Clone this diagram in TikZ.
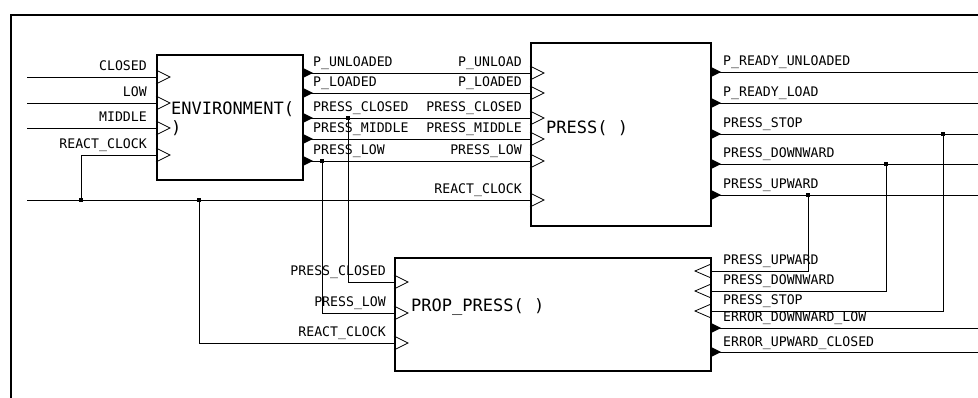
\documentclass[tikz,border=0pt]{standalone}
\usepackage{fontspec}
\setmonofont{DejaVu Sans Mono}
\usetikzlibrary{positioning}

\begin{document}
\begin{tikzpicture}[x=1pt, y=-1pt,
    wire/.style={line width=0.9pt},
    blk/.style={draw, line width=2pt, inner sep=0pt, anchor=north west},
    lbl/.style={font=\ttfamily\fontsize{13.2}{14}\selectfont, inner sep=0pt},
    ttl/.style={font=\ttfamily\fontsize{17}{19}\selectfont, inner sep=0pt, anchor=west, align=left},
    inport/.style={line width=0.8pt},
  ]
  \fill[white] (0,0) rectangle (978,398);
  \useasboundingbox (0,0) rectangle (978,398);
  \draw[line width=2.5pt] (978,15) -- (11,15) -- (11,398);

  % blocks
  \node[blk, minimum width=146, minimum height=125] (env) at (156,54) {};
  \node[blk, minimum width=180, minimum height=183] (press) at (530,42) {};
  \node[blk, minimum width=316, minimum height=113] (prop) at (394,257) {};
  \node[ttl] (envname) at (171,119) {ENVIRONMENT(\\)};
  \node[ttl] (pressname) at (546,128) {PRESS(~)};
  \node[ttl] (propname) at (411,307) {PROP\_PRESS(~)};

  % ENVIRONMENT inputs
  \foreach \n/\y/\t in {1/77/CLOSED, 2/103/LOW, 3/128/MIDDLE, 4/155/REACT\_CLOCK} {
    \coordinate (ei\n) at (156,\y);
    \draw[inport] (ei\n) ++(0,-7) -- ++(14,7) -- ++(-14,7);
    \node[lbl, anchor=base east] (eil\n) at ([xshift=-9, yshift=6.5]ei\n) {\t};
  }
  \foreach \n/\y in {1/77, 2/103, 3/128} {
    \coordinate (es\n) at (27,\y);
    \draw[wire] (es\n) -- (ei\n);
  }

  % ENVIRONMENT -> PRESS
  \foreach \n/\y/\a/\b in {1/73/P\_UNLOADED/P\_UNLOAD, 2/93/P\_LOADED/P\_LOADED,
      3/118/PRESS\_CLOSED/PRESS\_CLOSED, 4/139/PRESS\_MIDDLE/PRESS\_MIDDLE,
      5/161/PRESS\_LOW/PRESS\_LOW} {
    \coordinate (eo\n) at (302,\y);
    \coordinate (pi\n) at (530,\y);
    \draw[wire] (eo\n) -- (pi\n);
    \fill (eo\n) ++(0,-5.5) -- ++(11,5.5) -- ++(-11,5.5) -- cycle;
    \draw[inport] (pi\n) ++(0,-7) -- ++(14,7) -- ++(-14,7);
    \node[lbl, anchor=base west] (eol\n) at ([xshift=11, yshift=6.5]eo\n) {\a};
    \node[lbl, anchor=base east] (pil\n) at ([xshift=-8, yshift=6.5]pi\n) {\b};
  }
  \coordinate (pi6) at (530,200);
  \draw[inport] (pi6) ++(0,-7) -- ++(14,7) -- ++(-14,7);
  \node[lbl, anchor=base east] (pil6) at ([xshift=-8, yshift=6.5]pi6) {REACT\_CLOCK};

  % PRESS outputs
  \foreach \n/\y/\t in {1/72/P\_READY\_UNLOADED, 2/103/P\_READY\_LOAD, 3/134/PRESS\_STOP,
      4/164/PRESS\_DOWNWARD, 5/195/PRESS\_UPWARD} {
    \coordinate (po\n) at (710,\y);
    \coordinate (pe\n) at (978,\y);
    \draw[wire] (po\n) -- (pe\n);
    \fill (po\n) ++(0,-5.5) -- ++(11,5.5) -- ++(-11,5.5) -- cycle;
    \node[lbl, anchor=base west] (pol\n) at ([xshift=13, yshift=6.5]po\n) {\t};
  }

  % PROP_PRESS ports
  \foreach \n/\y/\t in {1/282/PRESS\_CLOSED, 2/313/PRESS\_LOW, 3/343/REACT\_CLOCK} {
    \coordinate (ql\n) at (394,\y);
    \draw[inport] (ql\n) ++(0,-7) -- ++(14,7) -- ++(-14,7);
    \node[lbl, anchor=base east] (qll\n) at ([xshift=-8, yshift=6.5]ql\n) {\t};
  }
  \foreach \n/\y/\t in {1/271/PRESS\_UPWARD, 2/291/PRESS\_DOWNWARD, 3/311/PRESS\_STOP} {
    \coordinate (qr\n) at (710,\y);
    \draw[inport] (qr\n) ++(0,-6.5) -- ++(-15,6.5) -- ++(15,6.5);
    \node[lbl, anchor=base west] (qrl\n) at ([xshift=13, yshift=6.5]qr\n) {\t};
  }
  \foreach \n/\y/\t in {1/328/ERROR\_DOWNWARD\_LOW, 2/352/ERROR\_UPWARD\_CLOSED} {
    \coordinate (qo\n) at (710,\y);
    \coordinate (qe\n) at (978,\y);
    \draw[wire] (qo\n) -- (qe\n);
    \fill (qo\n) ++(0,-5.5) -- ++(11,5.5) -- ++(-11,5.5) -- cycle;
    \node[lbl, anchor=base west] (qol\n) at ([xshift=13, yshift=6]qo\n) {\t};
  }

  % nets
  \coordinate (clk) at (27,200);
  \coordinate (jc1) at (81,200);
  \coordinate (jc2) at (199,200);
  \coordinate (jc3) at (348,118);
  \coordinate (jc4) at (322,161);
  \coordinate (jr1) at (808,195);
  \coordinate (jr2) at (886,164);
  \coordinate (jr3) at (943,134);
  \draw[wire] (clk) -- (pi6);
  \draw[wire] (ei4) -| (jc1);
  \draw[wire] (jc2) |- (ql3);
  \draw[wire] (jc3) |- (ql1);
  \draw[wire] (jc4) |- (ql2);
  \draw[wire] (jr1) |- (qr1);
  \draw[wire] (jr2) |- (qr2);
  \draw[wire] (jr3) |- (qr3);
  \foreach \j in {jc1, jc2, jc3, jc4, jr1, jr2, jr3}
    \fill (\j) +(-2.3,-2.3) rectangle +(2.3,2.3);
\end{tikzpicture}
\end{document}
